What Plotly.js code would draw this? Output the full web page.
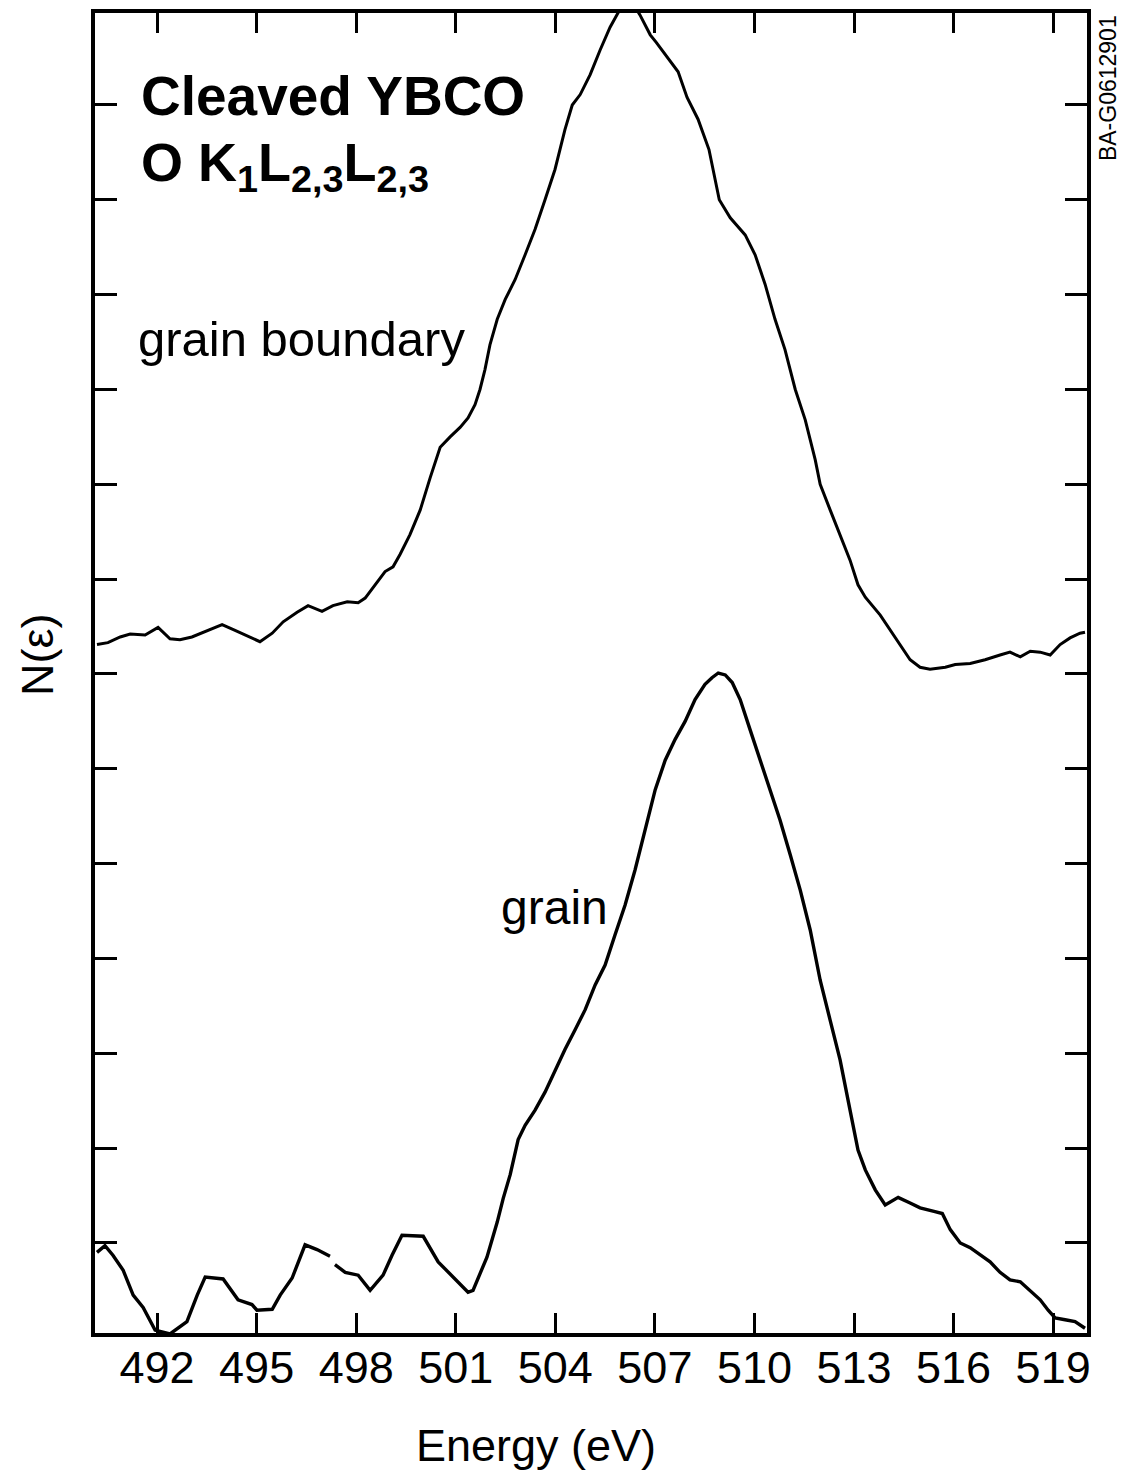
<!DOCTYPE html>
<html>
<head>
<meta charset="utf-8">
<script src="https://cdn.plot.ly/plotly-3.0.1.min.js"></script>
<style>
  html, body { margin: 0; padding: 0; background: #ffffff; }
  #chart { width: 1129px; height: 1479px; }
</style>
</head>
<body>
<div id="chart"></div>
<script>
// Energy axis ticks (eV)
const energyTicks = [492, 495, 498, 501, 504, 507, 510, 513, 516, 519];
const energyTickLabels = ["492", "495", "498", "501", "504", "507", "510", "513", "516", "519"];
// N(E) axis ticks (arbitrary units, unlabelled)
const intensityTicks = [1, 2, 3, 4, 5, 6, 7, 8, 9, 10, 11, 12, 13];

// Grain boundary spectrum (upper curve)
const gbEnergy = [490.19, 490.52, 490.89, 491.19, 491.64, 492.03, 492.39, 492.69, 493.05, 493.60,
  493.96, 494.35, 494.80, 495.10, 495.47, 495.80, 496.22, 496.55, 496.97, 497.30,
  497.73, 498.06, 498.27, 498.57, 498.87, 499.11, 499.32, 499.62, 499.93, 500.23,
  500.53, 500.83, 501.13, 501.37, 501.58, 501.73, 501.88, 502.03, 502.25, 502.49,
  502.79, 503.09, 503.39, 503.69, 503.99, 504.29, 504.51, 504.75, 505.05, 505.35,
  505.65, 505.95, 506.19, 506.55, 506.86, 507.04, 507.37, 507.70, 507.97, 508.30,
  508.63, 508.81, 508.94, 509.27, 509.72, 510.02, 510.32, 510.62, 510.92, 511.23,
  511.53, 511.83, 511.98, 512.28, 512.58, 512.88, 513.12, 513.34, 513.79, 514.24,
  514.69, 514.99, 515.29, 515.75, 516.05, 516.50, 516.95, 517.40, 517.70, 518.01,
  518.31, 518.61, 518.91, 519.21, 519.51, 519.81, 519.96];
const gbIntensity = [7.31, 7.33, 7.39, 7.42, 7.41, 7.49, 7.37, 7.36, 7.39, 7.47,
  7.52, 7.46, 7.39, 7.34, 7.43, 7.55, 7.65, 7.72, 7.66, 7.72,
  7.76, 7.75, 7.80, 7.94, 8.08, 8.13, 8.26, 8.47, 8.73, 9.07,
  9.39, 9.50, 9.60, 9.70, 9.84, 10.00, 10.21, 10.47, 10.74, 10.95,
  11.16, 11.42, 11.69, 12.00, 12.32, 12.74, 13.00, 13.11, 13.32, 13.58,
  13.82, 14.01, 14.15, 13.95, 13.74, 13.66, 13.50, 13.35, 13.08, 12.85,
  12.53, 12.21, 12.00, 11.81, 11.63, 11.42, 11.11, 10.74, 10.42, 10.00,
  9.68, 9.26, 9.00, 8.73, 8.47, 8.20, 7.94, 7.81, 7.62, 7.38,
  7.15, 7.07, 7.05, 7.07, 7.10, 7.11, 7.15, 7.20, 7.23, 7.18,
  7.24, 7.23, 7.20, 7.31, 7.38, 7.43, 7.44];

// Grain spectrum (lower curve); null marks a break in the trace
const grainEnergy = [490.19, 490.43, 490.67, 490.98, 491.28, 491.58, 491.94, 492.39, 492.90, 493.21,
  493.45, 493.99, 494.44, 494.86, 495.01, 495.47, 495.71, 496.07, 496.46, 496.82,
  497.21, 497.28, 497.36, 497.67, 498.06, 498.42, 498.81, 499.08, 499.38, 500.02,
  500.47, 500.92, 501.37, 501.52, 501.94, 502.25, 502.43, 502.64, 502.88, 503.09,
  503.39, 503.69, 503.99, 504.29, 504.60, 504.90, 505.20, 505.50, 505.80, 506.10,
  506.40, 506.71, 507.01, 507.31, 507.61, 507.91, 508.21, 508.51, 508.72, 508.91,
  509.12, 509.33, 509.57, 509.87, 510.17, 510.47, 510.77, 511.08, 511.38, 511.68,
  511.98, 512.28, 512.58, 512.88, 513.12, 513.34, 513.64, 513.94, 514.33, 514.69,
  514.99, 515.44, 515.66, 515.90, 516.20, 516.50, 516.80, 517.10, 517.40, 517.70,
  518.01, 518.31, 518.61, 518.85, 519.06, 519.36, 519.66, 519.96];
const grainIntensity = [0.90, 0.97, 0.87, 0.71, 0.45, 0.32, 0.08, 0.04, 0.17, 0.45,
  0.64, 0.62, 0.40, 0.35, 0.29, 0.30, 0.45, 0.63, 0.98, 0.93,
  0.86, null, 0.77, 0.69, 0.66, 0.50, 0.66, 0.87, 1.08, 1.07,
  0.80, 0.64, 0.48, 0.50, 0.85, 1.22, 1.47, 1.72, 2.09, 2.24,
  2.40, 2.59, 2.82, 3.04, 3.25, 3.46, 3.72, 3.93, 4.25, 4.56,
  4.93, 5.36, 5.78, 6.09, 6.31, 6.50, 6.73, 6.89, 6.96, 7.01,
  6.99, 6.91, 6.73, 6.41, 6.09, 5.78, 5.46, 5.09, 4.72, 4.30,
  3.77, 3.35, 2.93, 2.40, 1.98, 1.77, 1.56, 1.40, 1.48, 1.42,
  1.37, 1.33, 1.31, 1.14, 1.00, 0.95, 0.87, 0.80, 0.69, 0.61,
  0.59, 0.50, 0.40, 0.29, 0.21, 0.19, 0.17, 0.10];

const FONT = "Liberation Sans, Arial, Helvetica, sans-serif";

const traces = [
  { x: gbEnergy, y: gbIntensity, type: "scatter", mode: "lines", name: "grain boundary",
    line: { color: "#000000", width: 3, shape: "linear" }, hoverinfo: "x+y" },
  { x: grainEnergy, y: grainIntensity, type: "scatter", mode: "lines", name: "grain",
    line: { color: "#000000", width: 3.4, shape: "linear" }, connectgaps: false, hoverinfo: "x+y" }
];

const layout = {
  width: 1129, height: 1479,
  margin: { l: 95, r: 42, t: 13, b: 146, pad: 0 },
  paper_bgcolor: "#ffffff", plot_bgcolor: "#ffffff",
  showlegend: false,
  font: { family: FONT, color: "#000000" },
  xaxis: {
    range: [490.13, 520.02],
    tickmode: "array", tickvals: energyTicks, ticktext: energyTickLabels,
    ticks: "inside", ticklen: 20, tickwidth: 3, tickcolor: "#000000",
    showline: true, linewidth: 4, linecolor: "#000000", mirror: "ticks",
    showgrid: false, zeroline: false,
    tickfont: { family: FONT, size: 45, color: "#000000" },
    ticklabelstandoff: -8
  },
  yaxis: {
    range: [0.05, 13.97],
    tickmode: "array", tickvals: intensityTicks,
    ticks: "inside", ticklen: 22, tickwidth: 3, tickcolor: "#000000",
    showticklabels: false,
    showline: true, linewidth: 4, linecolor: "#000000", mirror: "ticks",
    showgrid: false, zeroline: false
  },
  annotations: [
    { text: "Energy (eV)", xref: "paper", yref: "paper", x: 0.445, y: -0.085,
      xanchor: "center", yanchor: "middle", showarrow: false,
      font: { family: FONT, size: 45, color: "#000000" } },
    { text: "N(ε)", xref: "paper", yref: "paper", x: -0.058, y: 0.514,
      xanchor: "center", yanchor: "middle", showarrow: false, textangle: -90,
      font: { family: FONT, size: 45, color: "#000000" } },
    { text: "<b>Cleaved YBCO</b>", xref: "paper", yref: "paper", x: 0.044, y: 0.9375,
      xanchor: "left", yanchor: "middle", showarrow: false,
      font: { family: FONT, size: 55, color: "#000000" } },
    { text: "<b>O K<sub>1</sub>L<sub>2,3</sub>L<sub>2,3</sub></b>", xref: "paper", yref: "paper", x: 0.044, y: 0.884,
      xanchor: "left", yanchor: "middle", showarrow: false,
      font: { family: FONT, size: 54, color: "#000000" } },
    { text: "grain boundary", xref: "paper", yref: "paper", x: 0.041, y: 0.753,
      xanchor: "left", yanchor: "middle", showarrow: false,
      font: { family: FONT, size: 49, color: "#000000" } },
    { text: "grain", xref: "paper", yref: "paper", x: 0.407, y: 0.322,
      xanchor: "left", yanchor: "middle", showarrow: false,
      font: { family: FONT, size: 48, color: "#000000" } },
    { text: "BA-G0612901", xref: "paper", yref: "paper", x: 1.021, y: 0.943,
      xanchor: "center", yanchor: "middle", showarrow: false, textangle: -90,
      font: { family: FONT, size: 23, color: "#000000" } }
  ]
};

Plotly.newPlot("chart", traces, layout, { staticPlot: true, displayModeBar: false });
</script>
</body>
</html>
